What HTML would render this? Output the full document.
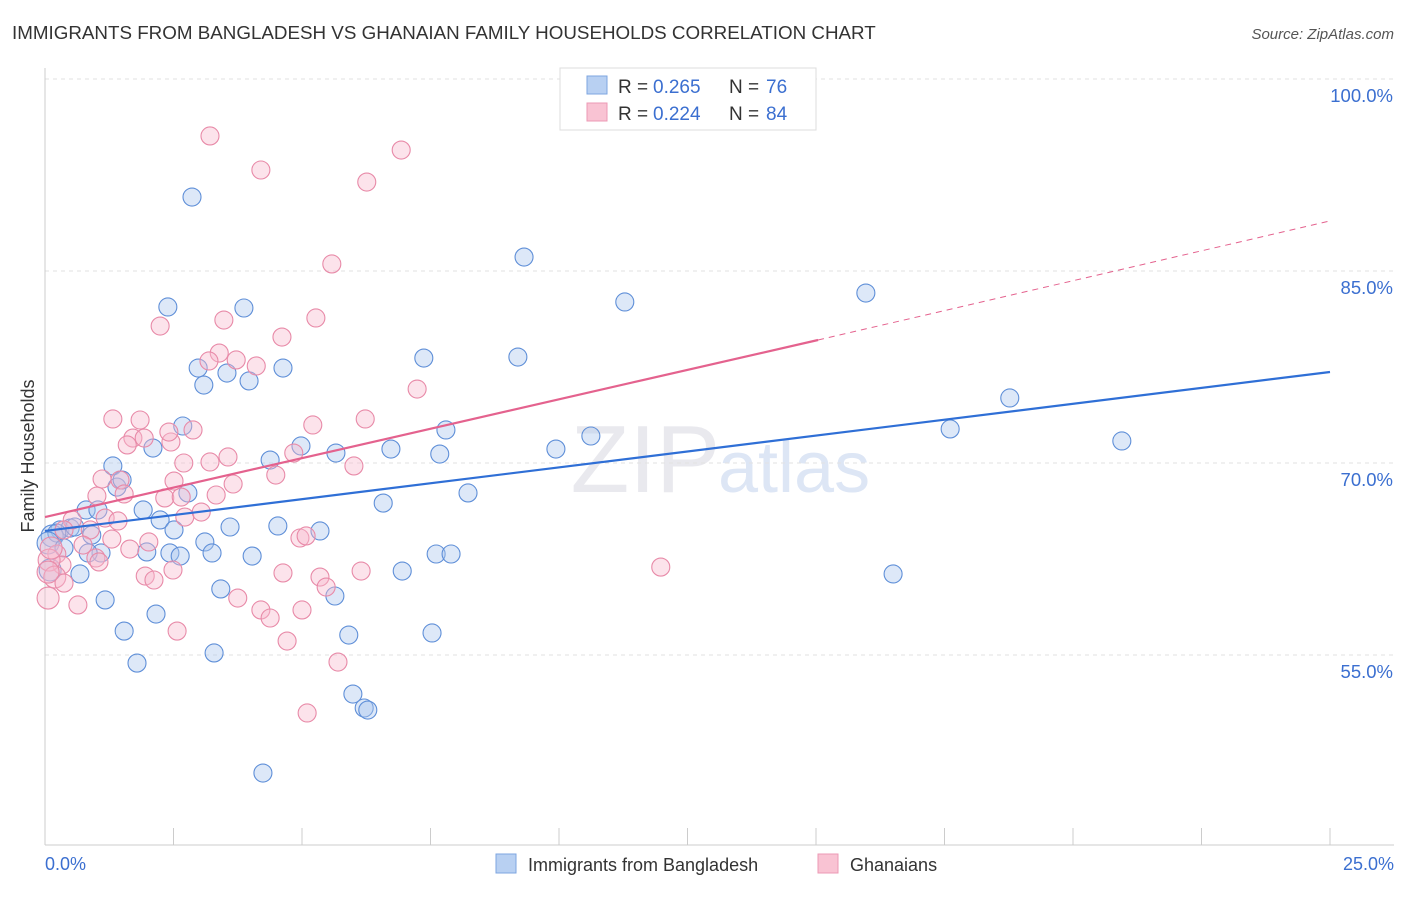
<!DOCTYPE html>
<html><head><meta charset="utf-8"><style>
body{margin:0;background:#fff;font-family:"Liberation Sans",sans-serif;}
svg text{font-family:"Liberation Sans",sans-serif;}
</style></head><body>
<svg id="chart" width="1406" height="892" viewBox="0 0 1406 892">
<text x="12" y="39" font-size="18.8" fill="#333">IMMIGRANTS FROM BANGLADESH VS GHANAIAN FAMILY HOUSEHOLDS CORRELATION CHART</text>
<text x="1394" y="39" font-size="15" fill="#555" text-anchor="end" font-style="italic">Source: ZipAtlas.com</text>
<text x="720" y="492" font-size="96" fill="#e9e9ee" text-anchor="end" font-family="Liberation Serif">ZIP</text>
<text x="718" y="492" font-size="72" fill="#dde6f5">atlas</text>
<g id="grid"></g><g id="axes"></g><g id="marks"></g><g id="trends"></g>
<text transform="translate(34,456) rotate(-90)" font-size="18" fill="#333" text-anchor="middle">Family Households</text>
<text x="45" y="870" font-size="18" fill="#3b6fd0">0.0%</text>
<text x="1394" y="870" font-size="18" fill="#3b6fd0" text-anchor="end">25.0%</text>
<g>
<rect x="560" y="68" width="256" height="62" fill="#fff" stroke="#ddd"/>
<rect x="587" y="76" width="20" height="18" fill="#b8d0f2" stroke="#7ea6e0"/>
<rect x="587" y="103" width="20" height="18" fill="#f9c3d3" stroke="#ec9ab4"/>
<text x="618" y="93" font-size="19" fill="#333">R = </text><text x="653" y="93" font-size="19" fill="#3b6fd0">0.265</text>
<text x="729" y="93" font-size="19" fill="#333">N = </text><text x="766" y="93" font-size="19" fill="#3b6fd0">76</text>
<text x="618" y="120" font-size="19" fill="#333">R = </text><text x="653" y="120" font-size="19" fill="#3b6fd0">0.224</text>
<text x="729" y="120" font-size="19" fill="#333">N = </text><text x="766" y="120" font-size="19" fill="#3b6fd0">84</text>
</g>
<g>
<rect x="496" y="854" width="20" height="19" fill="#b8d0f2" stroke="#7ea6e0"/>
<text x="528" y="871" font-size="18" fill="#333">Immigrants from Bangladesh</text>
<rect x="818" y="854" width="20" height="19" fill="#f9c3d3" stroke="#ec9ab4"/>
<text x="850" y="871" font-size="18" fill="#333">Ghanaians</text>
</g>
</svg>
<script>
const yTicks=[55,70,85,100];
const yTickLabels=["55.0%","70.0%","85.0%","100.0%"];
const blueX=[2.86,9.32,11.28,15.97,2.39,3.87,7.37,9.20,2.98,3.54,4.63,3.09,3.97,18.77,17.61,20.95,10.62,7.80,2.68,2.10,4.98,5.66,6.73,7.68,9.94,4.38,1.32,1.40,1.50,2.78,8.23,6.58,0.80,1.03,1.91,2.24,2.51,3.60,4.53,5.35,0.29,0.49,0.58,0.14,0.23,0.91,3.11,3.25,2.43,1.98,1.09,0.84,2.63,4.03,7.61,7.90,0.68,6.95,16.50,3.42,5.64,1.17,2.16,1.54,5.91,7.53,1.79,3.29,5.99,6.21,6.28,4.24,0.06,0.10,0.37];
const blueY=[90.78,86.09,82.58,83.28,82.19,82.11,78.2,78.28,77.42,77.03,77.42,76.09,76.41,75.08,72.66,71.72,72.11,72.58,72.89,71.17,71.33,70.78,71.09,70.7,71.09,70.23,69.77,68.12,68.67,67.66,67.66,66.87,66.33,66.33,66.33,65.55,64.77,65,65.08,64.69,64.77,64.92,65,64.3,64.53,64.37,63.83,62.97,62.97,63.05,62.97,62.97,62.73,62.73,62.89,62.89,61.33,61.56,61.33,60.16,59.61,59.3,58.2,56.87,56.56,56.72,54.37,55.16,51.95,50.86,50.7,45.78,63.75,61.64,63.36];
const pinkX=[3.21,4.20,6.93,6.26,5.58,2.24,3.48,5.27,4.61,3.39,3.19,3.72,4.11,7.24,1.32,1.85,6.23,1.71,1.93,1.60,2.88,2.45,2.41,5.21,3.56,2.70,3.21,4.84,6.01,4.49,1.11,1.46,2.51,3.66,1.01,1.54,2.33,2.65,3.33,1.17,1.42,2.72,3.04,0.53,0.37,0.88,1.30,0.74,2.02,4.96,5.08,0.23,0.33,0.99,1.65,1.05,2.49,0.08,0.19,11.98,6.15,4.63,5.35,1.95,2.12,5.47,3.75,0.06,0.37,0.64,5.00,4.20,4.38,2.57,4.71,5.70,5.10,0.12,0.06];
const pinkY=[95.55,92.89,94.45,91.95,85.55,80.7,81.17,81.33,79.84,78.59,77.97,78.05,77.58,75.78,73.44,73.36,73.44,71.95,71.95,71.41,72.58,71.64,72.42,72.97,70.47,70,70.08,70.78,69.77,69.06,68.75,68.67,68.59,68.36,67.42,67.58,67.27,67.34,67.5,65.7,65.47,65.78,66.17,65.55,64.77,64.77,64.06,63.59,63.83,64.14,64.3,62.89,62.03,62.58,63.28,62.27,61.64,62.42,61.09,61.87,61.56,61.41,61.09,61.17,60.86,60.31,59.45,59.45,60.62,58.91,58.52,58.52,57.89,56.87,56.09,54.45,50.47,63.36,61.48];
const blueTrend=[[0,64.69],[25,77.11]];
const pinkTrendSolid=[[0,65.78],[15.04,79.61]];
const pinkTrendDash=[[15.04,79.61],[25,88.91]];
const NS="http://www.w3.org/2000/svg";
const X=v=>45+v*51.4, Y=v=>79+(100-v)*12.8;
function mk(t,a,p){const e=document.createElementNS(NS,t);for(const k in a)e.setAttribute(k,a[k]);p.appendChild(e);return e;}
const grid=document.getElementById('grid'),axes=document.getElementById('axes'),marks=document.getElementById('marks'),trends=document.getElementById('trends');
yTicks.forEach((t,i)=>{
 const l=mk('line',{x1:45,x2:1394,y1:Y(t),y2:Y(t),stroke:'#e2e2e2','stroke-dasharray':'4,4'},grid);
 
 
 const tx=mk('text',{x:1393,y:Y(t)+23,'font-size':18.5,fill:'#3b6fd0','text-anchor':'end'},grid);
 tx.textContent=yTickLabels[i];
 
 
});
const ya=mk('line',{x1:45,x2:45,y1:68,y2:845,stroke:'#ccc'},axes);


const xa=mk('line',{x1:45,x2:1394,y1:845,y2:845,stroke:'#ccc'},axes);


for(let i=0;i<=10;i++){const t=mk('line',{x1:X(i*2.5),x2:X(i*2.5),y1:828,y2:845,stroke:'#ccc'},axes);
 
 }
function pts(xs,ys,fill,stroke,name){xs.forEach((x,i)=>{
 const r=x<0.2?11:9;
 const c=mk('circle',{cx:X(x),cy:Y(ys[i]),r:r,fill:fill,'fill-opacity':0.4,stroke:stroke,'stroke-width':1.1},marks);
 
 });}
pts(blueX,blueY,'#a9c6ee','#5f8fd8','bangladesh-point');
pts(pinkX,pinkY,'#f7b9cc','#e88aa8','ghanaian-point');
function ln(d,stroke,w,dash,name){const l=mk('line',{x1:X(d[0][0]),y1:Y(d[0][1]),x2:X(d[1][0]),y2:Y(d[1][1]),stroke:stroke,'stroke-width':w},trends);
 if(dash)l.setAttribute('stroke-dasharray',dash);
 
 }
ln(blueTrend,'#2f6fd6',2.2,null,'bangladesh-trend-line');
ln(pinkTrendSolid,'#e4628e',2.2,null,'ghanaian-trend-line');
ln(pinkTrendDash,'#e4628e',1,'6,5','ghanaian-trend-extension');
</script>
</body></html>
